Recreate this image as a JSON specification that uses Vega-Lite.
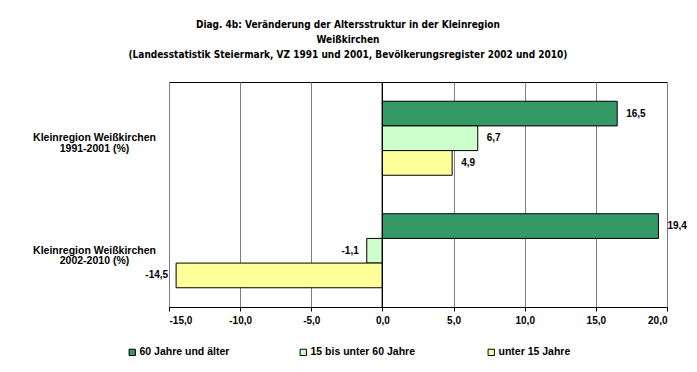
{
  "$schema": "https://vega.github.io/schema/vega-lite/v6.json",
  "width": 498,
  "height": 225,
  "padding": {"left": 9, "top": 19, "right": 10, "bottom": 5},
  "background": "white",
  "config": {
    "locale": {"number": {"decimal": ",", "thousands": ".", "grouping": [3], "currency": ["", " €"], "minus": "-"}},
    "font": "Liberation Sans",
    "view": {"stroke": "#000000", "strokeWidth": 1}
  },
  "title": {
    "text": ["Diag. 4b: Veränderung der Altersstruktur in der Kleinregion", "Weißkirchen", "(Landesstatistik Steiermark, VZ 1991 und 2001, Bevölkerungsregister 2002 und 2010)"],
    "font": "DejaVu Sans Condensed",
    "fontSize": 10,
    "fontWeight": "bold",
    "lineHeight": 15,
    "anchor": "middle",
    "frame": "bounds",
    "offset": 22,
    "color": "#000000"
  },
  "data": {
    "values": [
      {"region": "Kleinregion Weißkirchen|1991-2001 (%)", "category": "60 Jahre und älter", "value": 16.5},
      {"region": "Kleinregion Weißkirchen|1991-2001 (%)", "category": "15 bis unter 60  Jahre", "value": 6.7},
      {"region": "Kleinregion Weißkirchen|1991-2001 (%)", "category": "unter 15 Jahre", "value": 4.9},
      {"region": "Kleinregion Weißkirchen|2002-2010 (%)", "category": "60 Jahre und älter", "value": 19.4},
      {"region": "Kleinregion Weißkirchen|2002-2010 (%)", "category": "15 bis unter 60  Jahre", "value": -1.1},
      {"region": "Kleinregion Weißkirchen|2002-2010 (%)", "category": "unter 15 Jahre", "value": -14.5}
    ]
  },
  "layer": [
    {
      "mark": {"type": "bar", "stroke": "#000000", "strokeWidth": 1},
      "encoding": {
        "y": {
          "field": "region", "type": "nominal",
          "sort": ["Kleinregion Weißkirchen|1991-2001 (%)", "Kleinregion Weißkirchen|2002-2010 (%)"],
          "scale": {"paddingInner": 0, "paddingOuter": 0},
          "axis": {
            "title": null, "domain": false, "ticks": false, "tickSize": 0,
            "labelAlign": "center", "labelPadding": 75,
            "labelExpr": "split(datum.label, '|')",
            "labelFontWeight": "bold", "labelFontSize": 10.5, "labelFont": "Liberation Sans",
            "labelLineHeight": 10.5, "labelColor": "#000000", "labelLimit": 200,
            "minExtent": 160, "maxExtent": 160
          }
        },
        "yOffset": {
          "field": "category", "type": "nominal",
          "scale": {"domain": ["60 Jahre und älter", "15 bis unter 60  Jahre", "unter 15 Jahre"], "paddingOuter": 0.78, "paddingInner": 0}
        },
        "x": {
          "field": "value", "type": "quantitative",
          "scale": {"domain": [-15, 20], "nice": false},
          "axis": {
            "title": null, "values": [-15, -10, -5, 0, 5, 10, 15, 20], "format": ".1f",
            "grid": true, "gridColor": "#808080", "gridOpacity": 1,
            "domainColor": "#000000", "tickColor": "#000000", "tickSize": 4,
            "labelFontWeight": "bold", "labelFontSize": 10, "labelColor": "#000000", "labelPadding": 4,
            "labelFont": "Liberation Sans"
          }
        },
        "color": {
          "field": "category", "type": "nominal",
          "scale": {"domain": ["60 Jahre und älter", "15 bis unter 60  Jahre", "unter 15 Jahre"], "range": ["#339966", "#CCFFCC", "#FFFF99"]},
          "legend": {
            "orient": "none", "legendX": -42, "legendY": 265, "direction": "horizontal", "title": null,
            "symbolType": "square", "symbolSize": 40, "symbolStrokeColor": "#000000", "symbolStrokeWidth": 1,
            "labelFontWeight": "bold", "labelFontSize": 10.5, "labelFont": "Liberation Sans", "labelColor": "#000000",
            "columnPadding": 68, "labelOffset": 2
          }
        }
      }
    },
    {
      "mark": {"type": "rule", "color": "#000000", "strokeWidth": 1},
      "encoding": {"x": {"datum": 0}}
    },
    {
      "transform": [{"filter": "datum.value >= 0"}],
      "mark": {"type": "text", "align": "left", "baseline": "middle", "dx": 9, "font": "Liberation Sans", "fontWeight": "bold", "fontSize": 10, "color": "#000000"},
      "encoding": {
        "y": {"field": "region", "type": "nominal"},
        "yOffset": {"field": "category", "type": "nominal"},
        "x": {"field": "value", "type": "quantitative"},
        "text": {"field": "value", "type": "quantitative", "format": ".1f"}
      }
    },
    {
      "transform": [{"filter": "datum.value < 0"}],
      "mark": {"type": "text", "align": "right", "baseline": "middle", "dx": -8, "font": "Liberation Sans", "fontWeight": "bold", "fontSize": 10, "color": "#000000"},
      "encoding": {
        "y": {"field": "region", "type": "nominal"},
        "yOffset": {"field": "category", "type": "nominal"},
        "x": {"field": "value", "type": "quantitative"},
        "text": {"field": "value", "type": "quantitative", "format": ".1f"}
      }
    }
  ]
}
